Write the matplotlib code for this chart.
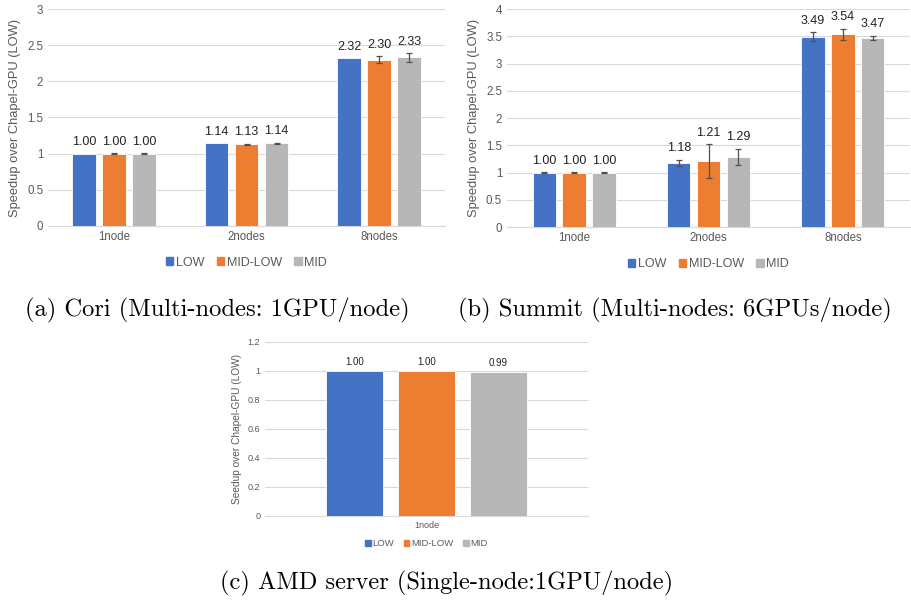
import matplotlib.pyplot as plt
import numpy as np
from matplotlib.patches import Patch

plt.rcParams['font.family'] = ['Liberation Sans', 'DejaVu Sans']

series = ['LOW', 'MID-LOW', 'MID']
colors = ['#4472C4', '#ED7D31', '#B7B7B7']

# (a) Cori
cori_nodes = ['1node', '2nodes', '8nodes']
cori_low = [1.00, 1.14, 2.32]
cori_midlow = [1.00, 1.13, 2.30]
cori_mid = [1.00, 1.14, 2.33]
cori_err_low = [0.0, 0.0, 0.0]
cori_err_midlow = [0.004, 0.005, 0.05]
cori_err_mid = [0.004, 0.008, 0.06]

# (b) Summit
summit_nodes = ['1node', '2nodes', '8nodes']
summit_low = [1.00, 1.18, 3.49]
summit_midlow = [1.00, 1.21, 3.54]
summit_mid = [1.00, 1.29, 3.47]
summit_err_low = [0.004, 0.06, 0.08]
summit_err_midlow = [0.004, 0.31, 0.10]
summit_err_mid = [0.004, 0.15, 0.04]

# (c) AMD server
amd_nodes = ['1node']
amd_low = [1.00]
amd_midlow = [1.00]
amd_mid = [0.99]

captions = ['(a) Cori (Multi-nodes: 1GPU/node)',
            '(b) Summit (Multi-nodes: 6GPUs/node)',
            '(c) AMD server (Single-node:1GPU/node)']

fig = plt.figure(figsize=(9.11, 6.04), dpi=100)

def draw(ax, cats, vals, errs, ylim, ystep, ylabel, lab_fs, tick_fs, yl_fs, leg_fs, leg_y, width, gap):
    x = np.arange(len(cats))
    for k in range(3):
        pos = x + (k - 1) * gap
        ax.bar(pos, vals[k], width, color=colors[k], edgecolor='white', linewidth=0.6, zorder=3)
        err = errs[k] if errs is not None else [0] * len(cats)
        for p, v, e in zip(pos, vals[k], err):
            if e > 0:
                ax.errorbar(p, v, yerr=e, fmt='none', ecolor='#505050', elinewidth=0.9,
                            capsize=2.5, capthick=0.9, zorder=4)
            ax.text(p, v + e + ylim * 0.025, '%.2f' % v, ha='center', va='bottom',
                    fontsize=lab_fs, color='#222222', zorder=5)
    ax.set_ylim(0, ylim)
    ax.set_xlim(-0.5, len(cats) - 0.5)
    ticks = np.arange(0, ylim + 1e-9, ystep)
    ax.set_yticks(ticks)
    ax.set_yticklabels(['%g' % t for t in ticks])
    ax.set_xticks(x)
    ax.set_xticklabels(cats)
    ax.tick_params(length=0, labelsize=tick_fs, labelcolor='#595959')
    ax.grid(axis='y', color='#D9D9D9', linewidth=0.8, zorder=0)
    for s in ['top', 'right', 'left']:
        ax.spines[s].set_visible(False)
    ax.spines['bottom'].set_color('#D9D9D9')
    ax.set_ylabel(ylabel, fontsize=yl_fs, color='#595959')
    handles = [Patch(color=c) for c in colors]
    ax.legend(handles, series, loc='center', bbox_to_anchor=(0.5, leg_y), ncol=3, frameon=False,
              fontsize=leg_fs, labelcolor='#595959', handlelength=0.6, handleheight=0.6,
              handletextpad=0.2, columnspacing=1.0)

ax_a = fig.add_axes([0.0527, 0.626, 0.436, 0.359])
draw(ax_a, cori_nodes, [cori_low, cori_midlow, cori_mid],
     [cori_err_low, cori_err_midlow, cori_err_mid], 3, 0.5,
     'Speedup over Chapel-GPU (LOW)', 9, 8.3, 9.3, 9, -0.17, 0.178, 0.227)

ax_b = fig.add_axes([0.5565, 0.624, 0.4425, 0.361])
draw(ax_b, summit_nodes, [summit_low, summit_midlow, summit_mid],
     [summit_err_low, summit_err_midlow, summit_err_mid], 4, 0.5,
     'Speedup over Chapel-GPU (LOW)', 9, 8.3, 9.3, 9, -0.17, 0.175, 0.222)

ax_c = fig.add_axes([0.2909, 0.1457, 0.3545, 0.2881])
draw(ax_c, amd_nodes, [amd_low, amd_midlow, amd_mid], None, 1.2, 0.2,
     'Seedup over Chapel-GPU (LOW)', 7, 6.5, 7.3, 6.8, -0.16, 0.177, 0.222)

fig.text(0.238, 1 - 310 / 604, captions[0], ha='center', va='center', family='cmr10', fontsize=17.7)
fig.text(0.741, 1 - 310 / 604, captions[1], ha='center', va='center', family='cmr10', fontsize=17.7)
fig.text(0.490, 1 - 583 / 604, captions[2], ha='center', va='center', family='cmr10', fontsize=17.6)

fig.savefig('out.png', dpi=100)
